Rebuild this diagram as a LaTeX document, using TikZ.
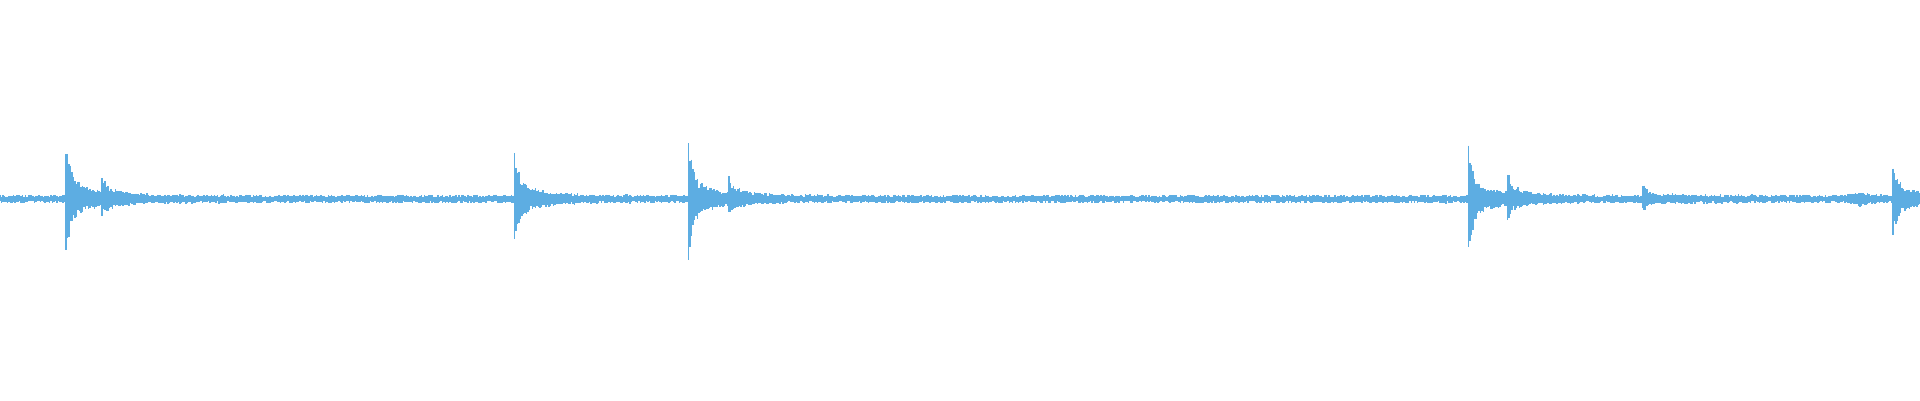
\documentclass[tikz,border=0pt]{standalone}
\definecolor{wave}{RGB}{93,173,226}
\begin{document}
\begin{tikzpicture}[x=1pt,y=-1pt,wv/.style={draw=wave,line width=1.3pt}]
\useasboundingbox (0,0) rectangle (1920,400);
\pgfmathsetseed{7}
\newcommand{\env}[3]{(#2)*(\x>=#1-1.4)*(0.7*exp(-max(\x-#1,0)/4)+0.3*exp(-max(\x-#1,0)/25))}
\foreach \x in {0,1.5,...,1920}{
  \pgfmathsetmacro{\up}{(2+2.5*rnd)+(0.55+0.45*rnd)*(\env{66}{64}{}+\env{102}{18}{}+\env{515}{50}{}+\env{689}{59}{}+\env{729}{18}{}+\env{1469}{56}{}+\env{1508}{22}{}+\env{1643}{12}{}+\env{1893}{41}{})+4*exp(-abs(\x-1861)/8)}
  \pgfmathsetmacro{\dn}{(2+2.5*rnd)+(0.55+0.45*rnd)*(\env{66}{64}{}+\env{102}{12}{}+\env{515}{51}{}+\env{689}{61}{}+\env{729}{10}{}+\env{1469}{58}{}+\env{1508}{14}{}+\env{1643}{10}{}+\env{1893}{42}{})+4*exp(-abs(\x-1861)/8)}
  \draw[wv] (\x,199-\up) -- (\x,199+\dn);
}
\end{tikzpicture}
\end{document}
